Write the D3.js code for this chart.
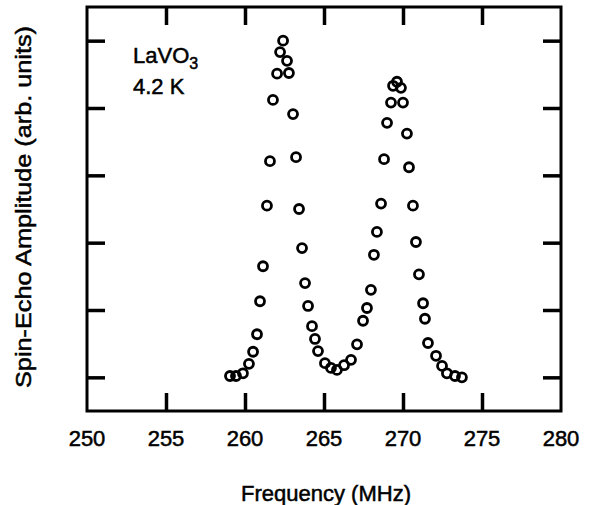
<!DOCTYPE html>
<html>
<head>
<meta charset="utf-8">
<script src="https://cdn.jsdelivr.net/npm/d3@7"></script>
<style>
  body { margin: 0; background: #fff; }
  text { font-family: "Liberation Sans", Arial, sans-serif; fill: #000; stroke: #000; stroke-width: 0.5px; }
</style>
</head>
<body>
<div id="chart-area"></div>
<script>
// Data
var frequency = [259.05, 259.43, 259.87, 260.25, 260.51, 260.76, 260.95, 261.14, 261.39, 261.58,
    261.77, 262.03, 262.22, 262.41, 262.66, 262.78, 263.04, 263.23, 263.42, 263.61,
    263.80, 263.99, 264.24, 264.43, 264.62, 265.06, 265.44, 265.82, 266.27, 266.71,
    267.09, 267.47, 267.72, 267.97, 268.16, 268.35, 268.61, 268.80, 268.99, 269.24,
    269.37, 269.62, 269.87, 270.00, 270.25, 270.38, 270.63, 270.82, 271.01, 271.27,
    271.39, 271.58, 272.09, 272.47, 272.78, 273.29, 273.73]
var amplitude = [0.02, 0.02, 0.06, 0.20, 0.38, 0.64, 1.13, 1.65, 2.55, 3.21,
    4.12, 4.51, 4.83, 5.00, 4.70, 4.52, 3.91, 3.27, 2.50, 1.92,
    1.40, 1.06, 0.76, 0.57, 0.39, 0.21, 0.14, 0.11, 0.18, 0.26,
    0.49, 0.84, 1.03, 1.30, 1.82, 2.16, 2.58, 3.24, 3.78, 4.08,
    4.33, 4.39, 4.30, 4.08, 3.62, 3.12, 2.55, 2.01, 1.53, 1.10,
    0.87, 0.51, 0.32, 0.17, 0.06, 0.02, 0.00]
var xTicks = [250, 255, 260, 265, 270, 275, 280]
var yTicks = [0, 1, 2, 3, 4, 5]

var margin = {top: 7, right: 38, bottom: 94, left: 87},
    width = 599 - margin.left - margin.right,
    height = 505 - margin.top - margin.bottom

var svg = d3.select("#chart-area")
    .append("svg")
        .attr("width", width + margin.left + margin.right)
        .attr("height", height + margin.top + margin.bottom)

var g = svg.append("g")
    .attr("transform", "translate(" + margin.left + ", " + margin.top + ")")

var x = d3.scaleLinear().domain([250, 280]).range([0, width])
var y = d3.scaleLinear().domain([-0.5, 5.5]).range([height, 0])

var tickLen = 18

// Axes, ticks pointing into the frame
var inner = xTicks.slice(1, -1)
g.append("g")
    .attr("class", "x-axis")
    .attr("transform", "translate(0, " + height + ")")
    .call(d3.axisBottom(x).tickValues(inner).tickSize(-tickLen).tickFormat(""))
g.append("g")
    .attr("class", "x-axis-top")
    .call(d3.axisTop(x).tickValues(inner).tickSize(-tickLen).tickFormat(""))
g.append("g")
    .attr("class", "y-axis")
    .call(d3.axisLeft(y).tickValues(yTicks).tickSize(-tickLen).tickFormat(""))
g.append("g")
    .attr("class", "y-axis-right")
    .attr("transform", "translate(" + width + ", 0)")
    .call(d3.axisRight(y).tickValues(yTicks).tickSize(-tickLen).tickFormat(""))

g.selectAll(".domain").remove()
g.selectAll(".tick line")
    .attr("stroke", "#000")
    .attr("stroke-width", 3.5)

// Frame
g.append("rect")
    .attr("x", 0)
    .attr("y", 0)
    .attr("width", width)
    .attr("height", height)
    .attr("fill", "none")
    .attr("stroke", "#000")
    .attr("stroke-width", 3)

// Tick labels
g.selectAll(".x-label")
    .data(xTicks)
    .enter().append("text")
    .attr("class", "x-label")
    .attr("x", d => x(d))
    .attr("y", height + 35)
    .attr("text-anchor", "middle")
    .attr("font-size", 22)
    .text(d => d)

// Axis titles
g.append("text")
    .attr("x", width / 2 + 2)
    .attr("y", height + 90)
    .attr("text-anchor", "middle")
    .attr("font-size", 22)
    .text("Frequency (MHz)")

g.append("text")
    .attr("x", -height / 2 + 2)
    .attr("y", -56)
    .attr("text-anchor", "middle")
    .attr("font-size", 22)
    .attr("textLength", 362)
    .attr("lengthAdjust", "spacingAndGlyphs")
    .attr("transform", "rotate(-90)")
    .text("Spin-Echo Amplitude (arb. units)")

// Sample label
var lab = g.append("text")
    .attr("x", 46)
    .attr("y", 56)
    .attr("font-size", 22)
lab.append("tspan").text("LaVO")
lab.append("tspan").attr("font-size", 16).attr("dy", 6).text("3")
g.append("text")
    .attr("x", 46)
    .attr("y", 87)
    .attr("font-size", 22)
    .text("4.2 K")

// Data points
g.selectAll("circle")
    .data(frequency.map((f, i) => ({f: f, a: amplitude[i]})))
    .enter().append("circle")
    .attr("cx", d => x(d.f))
    .attr("cy", d => y(d.a))
    .attr("r", 4.5)
    .attr("fill", "none")
    .attr("stroke", "#000")
    .attr("stroke-width", 2.8)
</script>
</body>
</html>
